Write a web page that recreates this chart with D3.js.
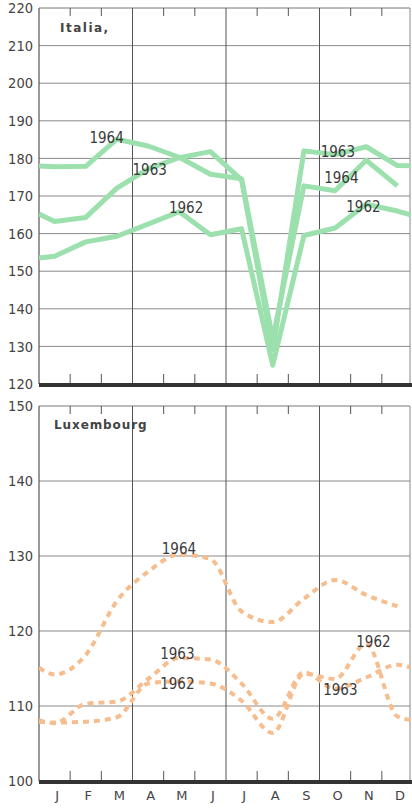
<!DOCTYPE html>
<html><head><meta charset="utf-8">
<script src="https://cdn.jsdelivr.net/npm/d3@7"></script>
<style>
html,body{margin:0;padding:0;background:#fff;}
svg{display:block;}
</style></head>
<body>
<svg id="c" width="412" height="808"></svg>
<script>
// ---- data ----
const months = ["J","F","M","A","M","J","J","A","S","O","N","D"];
// positions: left edge, Jan..Dec (month centres), right edge
const xPos = [0, 0.5, 1.5, 2.5, 3.5, 4.5, 5.5, 6.5, 7.5, 8.5, 9.5, 10.5, 11.5, 12];

const italiaTicks = [120,130,140,150,160,170,180,190,200,210,220];
const italia1962 = [153.5, 154.0, 157.8, 159.3, 162.5, 165.8, 159.7, 161.3, 125.0, 159.5, 161.5, 167.8, 166.0, 164.8];
const italia1963 = [165.2, 163.2, 164.3, 172.1, 177.2, 180.2, 181.8, 174.3, 129.0, 182.0, 181.0, 183.1, 178.1, 178.0];
const italia1964 = [178.0, 177.8, 177.9, 185.1, 183.3, 180.3, 175.8, 174.6, 132.0, 172.7, 171.4, 179.5, 172.7, null];

const luxTicks = [100,110,120,130,140,150];
const lux1962 = [107.9, 107.8, 107.9, 108.5, 113.0, 113.3, 113.0, 110.7, 106.4, 114.3, 113.6, 118.3, 108.6, 108.1];
const lux1963 = [108.1, 107.7, 110.3, 110.6, 113.6, 116.4, 116.2, 113.0, 108.3, 114.5, 112.3, 113.8, 115.5, 115.0];
const lux1964 = [115.1, 114.2, 116.8, 124.0, 127.9, 130.2, 129.6, 122.6, 121.2, 124.3, 126.8, 124.8, 123.3, null];

// ---- layout ----
const svg = d3.select("#c");
const L = 39, R = 410;
const x = d3.scaleLinear().domain([0,12]).range([39,413]);
const font = "'Liberation Sans Narrow','DejaVu Sans Condensed','Liberation Sans',sans-serif";

const panels = [
  {name:"Italia,", y:d3.scaleLinear().domain([120,220]).range([384,8]), ticks:italiaTicks,
   series:[italia1962, italia1963, italia1964], kind:"solid",
   labels:[["1964",2.17,184.1],["1963",3.55,175.6],["1962",4.72,165.5],["1963",9.59,180.4],["1964",9.7,173.5],["1962",10.41,165.8]]},
  {name:"Luxembourg", y:d3.scaleLinear().domain([100,150]).range([781,406]), ticks:luxTicks,
   series:[lux1962, lux1963, lux1964], kind:"dash",
   labels:[["1964",4.49,130.3],["1963",4.44,116.3],["1962",4.44,112.3],["1962",10.73,117.9],["1963",9.67,111.5]]}
];

panels.forEach((p, pi) => {
  const y = p.y;
  const top = y.range()[1], bot = y.range()[0];
  const g = svg.append("g");
  const clipId = "clip"+pi;
  svg.append("clipPath").attr("id", clipId).append("rect")
    .attr("x", L).attr("y", top).attr("width", R-L).attr("height", bot-top);

  // horizontal grid
  g.selectAll(".hg").data(p.ticks.slice(1,-1)).join("line")
    .attr("x1", L).attr("x2", R).attr("y1", d=>y(d)).attr("y2", d=>y(d))
    .attr("stroke", "#8a8a8a").attr("stroke-width", 1);
  // top frame
  g.append("line").attr("x1", L).attr("x2", R).attr("y1", top).attr("y2", top)
    .attr("stroke", "#777").attr("stroke-width", 1);
  // quarter vertical lines
  g.selectAll(".vq").data([3,6,9]).join("line")
    .attr("x1", d=>x(d)).attr("x2", d=>x(d)).attr("y1", top).attr("y2", bot)
    .attr("stroke", "#555").attr("stroke-width", 1);
  // left and right frame
  g.append("line").attr("x1", L).attr("x2", L).attr("y1", top).attr("y2", bot)
    .attr("stroke", "#555").attr("stroke-width", 1.2);
  g.append("line").attr("x1", R).attr("x2", R).attr("y1", top).attr("y2", bot)
    .attr("stroke", "#888").attr("stroke-width", 1);
  // month ticks
  const mt = [1,2,4,5,7,8,10,11];
  g.selectAll(".tt").data(mt).join("line")
    .attr("x1", d=>x(d)).attr("x2", d=>x(d)).attr("y1", top).attr("y2", top+8)
    .attr("stroke", "#555").attr("stroke-width", 1);
  g.selectAll(".bt").data(mt).join("line")
    .attr("x1", d=>x(d)).attr("x2", d=>x(d)).attr("y1", bot-10).attr("y2", bot)
    .attr("stroke", "#555").attr("stroke-width", 1);

  // y axis labels
  const ax = g.append("g").attr("transform", `translate(${L},0)`)
    .call(d3.axisLeft(y).tickValues(p.ticks).tickSize(0).tickPadding(6).tickFormat(d3.format("d")));
  ax.select(".domain").remove();
  ax.selectAll("text").attr("font-family", font).attr("font-size", 14.5).attr("fill", "#444");

  // series
  const line = d3.line()
    .defined(d => d[1] != null)
    .x(d => x(d[0])).y(d => y(d[1]))
    .curve(p.kind === "solid" ? d3.curveLinear : d3.curveMonotoneX);
  const lg = g.append("g").attr("clip-path", `url(#${clipId})`);
  p.series.forEach(s => {
    const pts = xPos.map((xp,i) => [xp, s[i]]);
    const path = lg.append("path").attr("d", line(pts)).attr("fill", "none");
    if (p.kind === "solid") {
      path.attr("stroke", "#9be0ad").attr("stroke-width", 5).attr("stroke-linejoin", "round");
    } else {
      path.attr("stroke", "#f6bd8e").attr("stroke-width", 4).attr("stroke-dasharray", "6,5");
    }
  });

  // bottom thick axis
  g.append("line").attr("x1", L).attr("x2", 412).attr("y1", bot+1).attr("y2", bot+1)
    .attr("stroke", "#333").attr("stroke-width", 4);

  // panel title
  g.append("text").attr("x", pi===0 ? 60 : 54).attr("y", pi===0 ? 32 : 429)
    .attr("font-family", "'DejaVu Sans','Liberation Sans',sans-serif").attr("font-size", 12)
    .attr("font-weight", 600)
    .attr("letter-spacing", pi===0 ? 1.5 : 0.9).attr("fill", "#444").text(p.name);

  // series labels
  g.selectAll(".sl").data(p.labels).join("text")
    .attr("x", d=>x(d[1])).attr("y", d=>y(d[2]))
    .attr("text-anchor", "middle")
    .attr("font-family", font).attr("font-size", 15).attr("fill", "#3a3a3a")
    .text(d=>d[0]);
});

// month labels
const mAxis = svg.append("g").attr("transform", "translate(2,791)")
  .call(d3.axisBottom(x).tickValues(xPos.slice(1,13)).tickSize(0).tickPadding(0).tickFormat((d,i)=>months[i]));
mAxis.select(".domain").remove();
mAxis.selectAll("text").attr("font-family", "'DejaVu Sans','Liberation Sans',sans-serif")
  .attr("font-size", 13).attr("fill", "#444");
</script>
</body></html>
